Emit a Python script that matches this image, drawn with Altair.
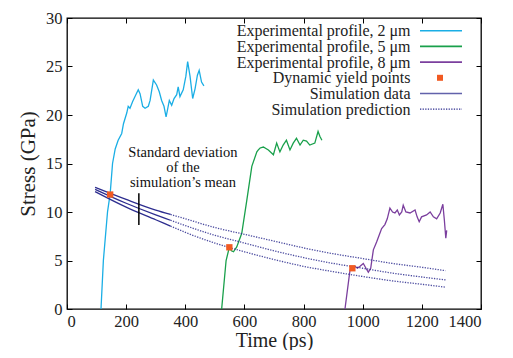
import altair as alt
import pandas as pd

# ---------------- data ----------------
t2 = [115, 123, 137, 146, 154, 163, 173, 185, 191, 202, 207, 213, 222, 230, 241, 247,
      256, 264, 275, 281, 292, 303, 312, 320, 328, 335, 339, 346, 354, 362, 371, 376,
      382, 393, 402, 408, 416, 425, 433, 441, 447, 455, 463]
s2 = [0, 5, 10, 11.9, 15, 16.5, 17.4, 18.1, 19.1, 20.2, 20.9, 20.7, 21.4, 21.9, 22.6, 22.2,
      20.9, 20.7, 20.9, 21.5, 23.6, 23.1, 22.4, 21.5, 20.9, 19.8, 20.4, 21.5, 21.0, 21.7, 22.1, 22.9,
      21.9, 22.6, 24.0, 25.5, 24.0, 21.7, 22.7, 24.1, 24.6, 23.4, 23.0]

t5 = [523, 538, 549, 556, 563, 574, 591, 608, 625, 642, 647, 653, 664, 681, 698, 709,
      720, 731, 742, 754, 765, 776, 788, 799, 810, 821, 838, 849, 855, 862]
s5 = [0, 5, 6.36, 6.0, 5.9, 6.4, 7.8, 11.2, 14.7, 16.2, 16.4, 16.6, 16.7, 16.4, 15.9, 17.1,
      16.2, 16.9, 17.4, 16.4, 17.1, 17.6, 16.9, 17.4, 17.3, 16.9, 17.1, 18.3, 17.8, 17.4]

t8 = [940, 957, 965, 974, 982, 991, 1002, 1011, 1019, 1027, 1036, 1047, 1064, 1075, 1083,
      1092, 1101, 1109, 1117, 1124, 1132, 1137, 1146, 1160, 1177, 1184, 1191, 1199, 1216,
      1228, 1239, 1250, 1262, 1271, 1276, 1281, 1284]
s8 = [0, 4.0, 4.2, 4.4, 4.2, 4.4, 4.7, 4.2, 3.8, 4.2, 6.1, 6.9, 8.3, 8.7, 9.3,
      10.4, 10.0, 9.9, 10.2, 9.7, 10.0, 10.7, 10.0, 9.9, 10.2, 9.5, 9.0, 9.5, 9.7,
      10.0, 9.5, 9.3, 9.9, 10.8, 9.2, 7.3, 8.1]

yield_t = [146, 549, 965]
yield_s = [11.8, 6.36, 4.2]

sim_t = [95, 200, 300, 350, 400, 500, 600, 700, 800, 900, 1000, 1100, 1200, 1280]
sim_mean = [12.34, 10.9, 9.7, 9.15, 8.6, 7.6, 6.8, 6.0, 5.3, 4.7, 4.2, 3.7, 3.3, 3.0]
sim_upper = [12.55, 11.3, 10.2, 9.75, 9.3, 8.4, 7.7, 7.0, 6.3, 5.7, 5.2, 4.7, 4.3, 3.95]
sim_lower = [12.1, 10.5, 9.2, 8.55, 7.9, 6.8, 5.9, 5.1, 4.4, 3.85, 3.35, 2.9, 2.55, 2.25]
sim_split = 350  # simulation data up to here, prediction after

sd_t = 243
sd_lo, sd_hi = 8.66, 11.93

note_lines = ["Standard deviation", "of the", "simulation\u2019s mean"]
note_t = 392
note_s = [16.08, 14.54, 13.0]

x_ticks = [0, 200, 400, 600, 800, 1000, 1200, 1400]
y_ticks = [0, 5, 10, 15, 20, 25, 30]

legend_labels = ["Experimental profile, 2 \u03bcm", "Experimental profile, 5 \u03bcm",
                 "Experimental profile, 8 \u03bcm", "Dynamic yield points",
                 "Simulation data", "Simulation prediction"]

C_CYAN, C_GREEN, C_PURPLE = "#1aaee5", "#19a04b", "#7b3f9e"
C_ORANGE, C_NAVY = "#f15a22", "#2d2d8f"
FONT = "Liberation Serif"

# ---------------- build tables ----------------
exp = pd.concat([
    pd.DataFrame({"t": t2, "s": s2, "series": "2"}),
    pd.DataFrame({"t": t5, "s": s5, "series": "5"}),
    pd.DataFrame({"t": t8, "s": s8, "series": "8"}),
])
sim_rows = []
for name, vals in [("mean", sim_mean), ("upper", sim_upper), ("lower", sim_lower)]:
    for t, s in zip(sim_t, vals):
        sim_rows.append({"t": t, "s": s, "curve": name})
sim = pd.DataFrame(sim_rows)
sim_solid = sim[sim.t <= sim_split]
sim_dot = sim[sim.t >= sim_split]
yld = pd.DataFrame({"t": yield_t, "s": yield_s})
sd = pd.DataFrame({"t": [sd_t], "s": [sd_lo], "s2": [sd_hi]})
note = pd.DataFrame({"t": [note_t] * 3, "s": note_s, "txt": note_lines})

xs = alt.Scale(domain=[0, 1400], nice=False, zero=False)
ys = alt.Scale(domain=[0, 30], nice=False)


def X(axis=None):
    return alt.X("t:Q", scale=xs, axis=axis)


def Y(axis=None):
    return alt.Y("s:Q", scale=ys, axis=axis)


AX_STYLE = dict(labelFont=FONT, labelFontSize=16.5, labelColor="#222",
                titleFont=FONT, titleFontWeight="normal", titleColor="#222")

main_x_axis = alt.Axis(orient="bottom", values=x_ticks, ticks=False, domain=False, grid=False,
                       labelPadding=4, title="Time (ps)", titlePadding=1, titleFontSize=20,
                       format="d", **AX_STYLE)
main_y_axis = alt.Axis(orient="left", values=y_ticks, ticks=False, domain=False, grid=False,
                       labelPadding=5, title="Stress (GPa)", titlePadding=7, titleFontSize=21,
                       **AX_STYLE)


def tick_axis(orient, vals):
    return alt.Axis(orient=orient, values=vals, ticks=True, tickSize=5, offset=-5,
                    labels=False, domain=False, grid=False, title="",
                    tickColor="black", tickWidth=1)


exp_layer = alt.Chart(exp).mark_line(strokeWidth=1.3).encode(
    x=X(main_x_axis), y=Y(main_y_axis),
    color=alt.Color("series:N", scale=alt.Scale(domain=["2", "5", "8"],
                                                range=[C_CYAN, C_GREEN, C_PURPLE]), legend=None),
    detail="series:N",
)

sim_solid_layer = alt.Chart(sim_solid).mark_line(strokeWidth=1.3, color=C_NAVY,
                                                 interpolate="monotone").encode(
    x=X(), y=Y(), detail="curve:N")
sim_dot_layer = alt.Chart(sim_dot).mark_line(strokeWidth=1.3, color=C_NAVY, strokeDash=[1.3, 1.3],
                                             interpolate="monotone", opacity=0.85).encode(
    x=X(), y=Y(), detail="curve:N")

yld_layer = alt.Chart(yld).mark_square(size=40, color=C_ORANGE, opacity=1).encode(x=X(), y=Y())

sd_layer = alt.Chart(sd).mark_rule(color="black", strokeWidth=1.5).encode(
    x=X(), y=Y(), y2="s2:Q")

note_layer = alt.Chart(note).mark_text(font=FONT, fontSize=14.5, color="#111",
                                       align="center", baseline="middle").encode(
    x=X(), y=Y(), text="txt:N")

tick_b = alt.Chart(yld).mark_point(opacity=0).encode(
    x=X(tick_axis("bottom", x_ticks)), y=Y(tick_axis("left", y_ticks)))
tick_t = alt.Chart(yld).mark_point(opacity=0).encode(
    x=X(tick_axis("top", x_ticks)), y=Y(tick_axis("right", y_ticks)))

# ---------------- legend (drawn in the top-right corner) ----------------
row_y = [12.7, 28.4, 44.1, 59.8, 75.5, 91.2]
lx_text, lx0, lx1, lsq = 343.5, 353, 395, 373
legend_layers = []
one = pd.DataFrame({"k": [0]})
for lab, yy in zip(legend_labels, row_y):
    legend_layers.append(alt.Chart(one).mark_text(font=FONT, fontSize=16, color="#222",
                                                  align="right", baseline="middle").encode(
        x=alt.value(lx_text), y=alt.value(yy + 0.5), text=alt.value(lab)))
for col, yy in zip([C_CYAN, C_GREEN, C_PURPLE], row_y[:3]):
    legend_layers.append(alt.Chart(one).mark_rule(color=col, strokeWidth=1.6).encode(
        x=alt.value(lx0), x2=alt.value(lx1), y=alt.value(yy)))
legend_layers.append(alt.Chart(one).mark_square(size=36, color=C_ORANGE, opacity=1).encode(
    x=alt.value(lsq), y=alt.value(row_y[3])))
legend_layers.append(alt.Chart(one).mark_rule(color=C_NAVY, strokeWidth=1.6, opacity=0.75).encode(
    x=alt.value(lx0), x2=alt.value(lx1), y=alt.value(row_y[4])))
legend_layers.append(alt.Chart(one).mark_rule(color=C_NAVY, strokeWidth=1.3,
                                              strokeDash=[1.3, 1.3]).encode(
    x=alt.value(lx0), x2=alt.value(lx1), y=alt.value(row_y[5])))

chart = alt.layer(
    exp_layer, sim_solid_layer, sim_dot_layer, sd_layer, note_layer, yld_layer,
    tick_b, tick_t, *legend_layers
).resolve_axis(x="independent", y="independent").properties(
    width=414, height=291,
    background="white",
    autosize=alt.AutoSizeParams(type="none"),
    padding={"left": 59, "top": 10, "right": 24, "bottom": 41},
).configure_view(stroke="black", strokeWidth=1.3).configure_axis(**AX_STYLE)

chart.save("out.html", embed_options={"renderer": "svg", "actions": False})
